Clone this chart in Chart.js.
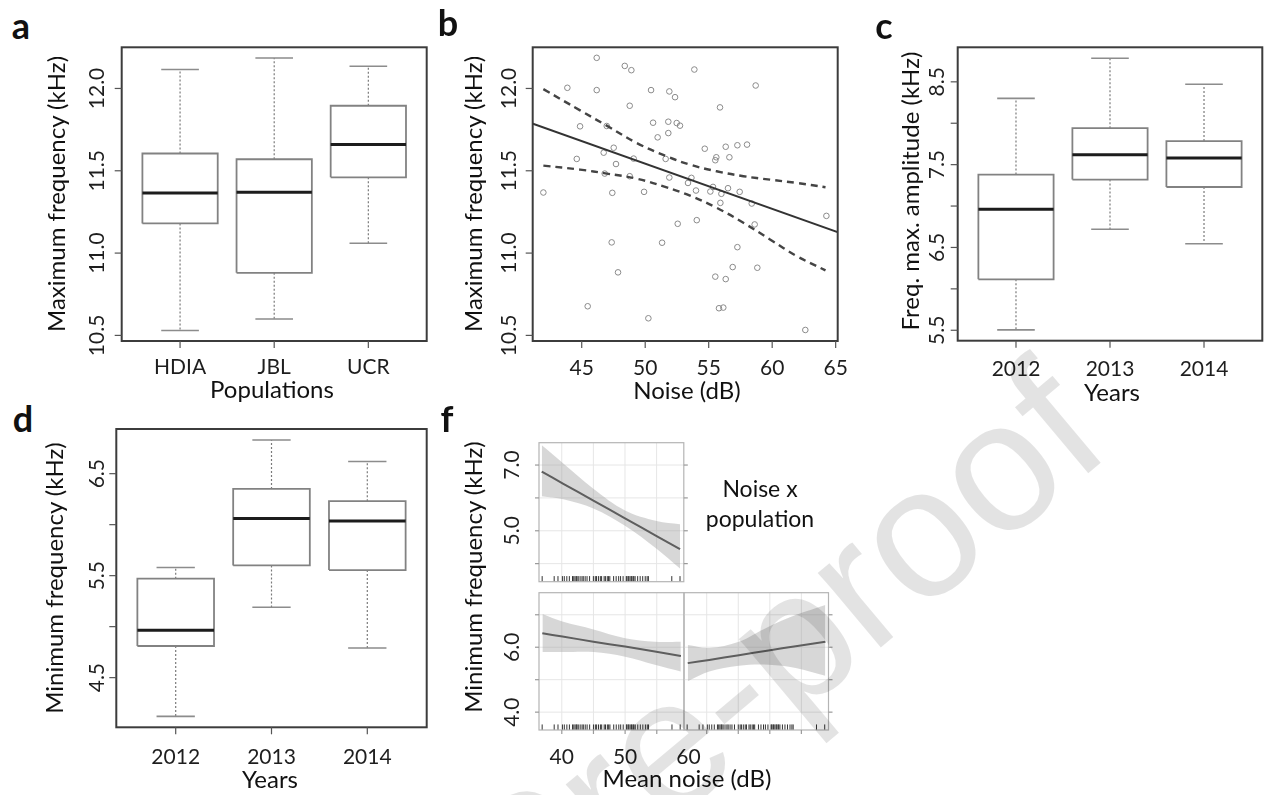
<!DOCTYPE html>
<html>
<head>
<meta charset="utf-8">
<script src="https://cdn.jsdelivr.net/npm/chart.js@4.4.0/dist/chart.umd.min.js"></script>
<style>
  body { margin: 0; width: 1267px; height: 795px; overflow: hidden; position: relative; background: #fff; font-family: Lato, 'Open Sans', sans-serif; color: #111; }
  canvas { position: absolute; }
  .t { position: absolute; white-space: nowrap; line-height: 1; transform: translate(-50%, -50%); }
  .v { transform: translate(-50%, -50%) rotate(-90deg); }
  .letter { font-weight: bold; font-size: 36px; }
  .title { font-size: 24px; }
  .note { font-size: 23px; line-height: 30px; text-align: center; }
  #mark { position: absolute; left: 0; top: 0; transform-origin: 0 0; transform: translate(-80px, 1250px) rotate(-40deg);
          font: 185px 'Liberation Sans', sans-serif; color: rgba(0, 0, 0, 0.11); white-space: nowrap; line-height: 1; pointer-events: none; }
</style>
</head>
<body>
<canvas id="chartA"></canvas>
<canvas id="chartB"></canvas>
<canvas id="chartC"></canvas>
<canvas id="chartD"></canvas>
<canvas id="chartFT"></canvas>
<canvas id="chartFBL"></canvas>
<canvas id="chartFBR"></canvas>

<div class="t letter" style="left:21px; top:25px">a</div>
<div class="t letter" style="left:448px; top:22px">b</div>
<div class="t letter" style="left:884px; top:25px">c</div>
<div class="t letter" style="left:23px; top:418px">d</div>
<div class="t letter" style="left:447px; top:418px">f</div>

<div class="t v title" style="left:56px; top:194px">Maximum frequency (kHz)</div>
<div class="t v title" style="left:473px; top:194px">Maximum frequency (kHz)</div>
<div class="t v title" style="left:910px; top:191px">Freq. max. amplitude (kHz)</div>
<div class="t v title" style="left:54px; top:578px">Minimum frequency (kHz)</div>
<div class="t v title" style="left:473px; top:577px">Minimum frequency (kHz)</div>

<div class="t title" style="left:272px; top:389px">Populations</div>
<div class="t title" style="left:687px; top:390px">Noise (dB)</div>
<div class="t title" style="left:1112px; top:392px">Years</div>
<div class="t title" style="left:270px; top:779px">Years</div>
<div class="t title" style="left:687px; top:778px">Mean noise (dB)</div>

<div class="t note" style="left:760px; top:503px">Noise x<br>population</div>

<div id="mark">Journal Pre-proof</div>

<script>
// a: maximum frequency by population (boxplot stats, kHz)
const popLabels = ['HDIA', 'JBL', 'UCR'];
const maxFreqLow = [10.53, 10.60, 11.06];
const maxFreqQ1 = [11.18, 10.88, 11.46];
const maxFreqMed = [11.365, 11.37, 11.66];
const maxFreqQ3 = [11.605, 11.57, 11.895];
const maxFreqHigh = [12.115, 12.185, 12.135];

// b: maximum frequency against noise
const noiseDb = [46.18, 48.39, 48.91, 53.87, 43.87, 46.18, 50.46, 51.90, 52.35, 58.70,
                 48.78, 55.89, 44.87, 46.97, 50.62, 51.82, 52.48, 52.74, 50.98, 51.82,
                 54.69, 56.34, 57.26, 58.02, 47.52, 46.73, 44.61, 47.70, 49.09, 51.61,
                 55.52, 55.60, 56.63, 46.81, 48.78, 51.90, 53.64, 53.37, 54.00, 55.13,
                 55.34, 56.00, 56.52, 57.44, 41.98, 47.41, 49.91, 55.92, 58.39, 64.27,
                 52.56, 54.06, 58.62, 47.36, 51.33, 57.26, 47.86, 56.89, 58.83, 55.52,
                 56.34, 45.47, 50.25, 55.81, 56.15, 62.61];
const maxFreq = [12.186, 12.137, 12.111, 12.115, 12.004, 11.990, 11.990, 11.982, 11.947, 12.018,
                 11.895, 11.885, 11.770, 11.772, 11.792, 11.798, 11.790, 11.774, 11.703, 11.729,
                 11.634, 11.646, 11.655, 11.659, 11.640, 11.610, 11.572, 11.541, 11.574, 11.572,
                 11.564, 11.582, 11.582, 11.483, 11.467, 11.459, 11.457, 11.426, 11.380, 11.374,
                 11.402, 11.360, 11.394, 11.372, 11.368, 11.366, 11.372, 11.305, 11.301, 11.226,
                 11.178, 11.200, 11.174, 11.065, 11.063, 11.036, 10.883, 10.915, 10.911, 10.857,
                 10.842, 10.677, 10.604, 10.665, 10.669, 10.533];
const fitNoise = [41.1, 65.2];
const fitMaxFreq = [11.787, 11.126];
const ciNoise = [41.98, 44.87, 46.97, 49.33, 51.69, 53.53, 55.63, 57.73, 59.83, 61.93, 64.2];
const ciUpper = [11.996, 11.867, 11.774, 11.669, 11.588, 11.537, 11.497, 11.467, 11.446, 11.426, 11.400];
const ciLower = [11.531, 11.507, 11.483, 11.452, 11.399, 11.349, 11.275, 11.184, 11.083, 10.982, 10.895];

// c: frequency of max amplitude by year
const yearLabels = ['2012', '2013', '2014'];
const ampLow = [5.505, 6.72, 6.545];
const ampQ1 = [6.115, 7.32, 7.23];
const ampMed = [6.96, 7.62, 7.58];
const ampQ3 = [7.38, 7.94, 7.785];
const ampHigh = [8.30, 8.785, 8.47];

// d: minimum frequency by year
const minLow = [4.12, 5.19, 4.79];
const minQ1 = [4.81, 5.60, 5.555];
const minMed = [4.965, 6.06, 6.035];
const minQ3 = [5.47, 6.35, 6.23];
const minHigh = [5.58, 6.83, 6.62];

// f: effect of mean noise on minimum frequency, by population panel
const topNoise = [36.84, 40.25, 45.0, 50.0, 55.0, 58.7];
const topFit = [6.80, 6.43, 5.92, 5.38, 4.84, 4.44];
const topUpper = [7.60, 7.05, 6.28, 5.62, 5.30, 5.20];
const topLower = [6.05, 5.96, 5.68, 5.15, 4.45, 3.85];
const leftNoise = [36.94, 40.1, 45.0, 50.0, 54.7, 58.8];
const leftFit = [6.43, 6.33, 6.17, 6.02, 5.87, 5.73];
const leftUpper = [7.02, 6.79, 6.55, 6.28, 6.17, 6.17];
const leftLower = [5.85, 5.85, 5.85, 5.71, 5.46, 5.25];
const rightNoise = [37.0, 40.4, 45.1, 49.8, 54.1, 58.8];
const rightFit = [5.51, 5.61, 5.755, 5.90, 6.03, 6.17];
const rightUpper = [6.07, 5.98, 6.17, 6.63, 6.99, 7.30];
const rightLower = [4.95, 5.25, 5.43, 5.46, 5.36, 5.12];
const rugNoise = [36.9, 38.8, 39.4, 40.1, 40.4, 40.8, 41.2, 41.7, 41.9, 42.1, 42.3, 42.4, 42.6,
                  42.9, 43.2, 43.4, 43.7, 44.0, 44.4, 45.0, 45.3, 45.5, 45.8, 46.1, 46.3, 46.7,
                  46.9, 47.2, 47.4, 47.6, 48.2, 48.6, 49.0, 49.3, 49.7, 50.2, 50.3, 50.5, 50.6,
                  50.8, 51.0, 51.1, 51.3, 51.4, 51.6, 52.0, 52.4, 52.8, 53.2, 53.5, 53.7, 57.4, 58.7];

// axis ticks
const maxFreqTicks = [10.5, 11.0, 11.5, 12.0];
const noiseTicks = [45, 50, 55, 60, 65];
const ampTicks = [5.5, 6.0, 6.5, 7.0, 7.5, 8.0, 8.5];
const ampLabelTicks = [5.5, 6.5, 7.5, 8.5];
const minTicks = [4.5, 5.0, 5.5, 6.0, 6.5];
const minLabelTicks = [4.5, 5.5, 6.5];
const effYTicks = [4, 5, 6, 7];
const effXTicks = [40, 45, 50, 55];
const effXLabels = [40, 50, 60];

const BOX_HALF = 0.4, CAP_HALF = 0.2;
const BOX_X = [0.38, 3.62];
const EFF_X = [36.4, 59.3], EFF_Y = [3.45, 7.68];

function seg(ctx, x1, y1, x2, y2) {
  ctx.beginPath(); ctx.moveTo(x1, y1); ctx.lineTo(x2, y2); ctx.stroke();
}

// R-style frame, outward ticks and rotated y labels
const rAxes = {
  id: 'rAxes',
  beforeDatasetsDraw(chart, args, o) {
    const {ctx, chartArea: a, scales} = chart;
    ctx.save();
    ctx.strokeStyle = '#e6e6e6';
    ctx.lineWidth = 1;
    (o.gridX || []).forEach(v => { const p = scales.x.getPixelForValue(v); seg(ctx, p, a.top, p, a.bottom); });
    (o.gridY || []).forEach(v => { const p = scales.y.getPixelForValue(v); seg(ctx, a.left, p, a.right, p); });
    ctx.restore();
  },
  afterDatasetsDraw(chart, args, o) {
    const {ctx, chartArea: a, scales: {x, y}} = chart;
    ctx.save();
    ctx.strokeStyle = o.frameColor || '#3c3c3c';
    ctx.lineWidth = o.frameWidth || 2;
    ctx.strokeRect(a.left, a.top, a.right - a.left, a.bottom - a.top);
    ctx.strokeStyle = o.tickColor || '#555';
    ctx.lineWidth = 1.2;
    const len = o.tickLen || 7;
    (o.xTicks || []).forEach(v => { const p = x.getPixelForValue(v); seg(ctx, p, a.bottom, p, a.bottom + len); });
    (o.yTicks || []).forEach(v => {
      const p = y.getPixelForValue(v);
      if (!o.noLeft) seg(ctx, a.left, p, a.left - len, p);
      if (o.right) seg(ctx, a.right, p, a.right + len, p);
    });
    ctx.fillStyle = '#1e1e1e';
    ctx.font = '21px Lato, sans-serif';
    ctx.textAlign = 'center';
    ctx.textBaseline = 'middle';
    (o.xLabels || []).forEach((t, i) => {
      ctx.fillText(t, x.getPixelForValue(o.xLabelAt[i]), a.bottom + o.xGap);
    });
    (o.yLabels || []).forEach(v => {
      ctx.save();
      ctx.translate(a.left - o.yGap, y.getPixelForValue(v));
      ctx.rotate(-Math.PI / 2);
      ctx.fillText(v.toFixed(1), 0, 0);
      ctx.restore();
    });
    ctx.restore();
  }
};

function makeChart(id, frame, xRange, yRange, datasets, axes) {
  const cv = document.getElementById(id);
  const box = [Math.floor(frame[0] - 80), Math.floor(frame[1] - 15), Math.ceil(frame[2] + 30), Math.ceil(frame[3] + 50)];
  cv.style.left = box[0] + 'px';
  cv.style.top = box[1] + 'px';
  cv.width = box[2] - box[0];
  cv.height = box[3] - box[1];
  return new Chart(cv, {
    type: 'scatter',
    data: { datasets },
    options: {
      responsive: false,
      animation: false,
      events: [],
      layout: { padding: { left: frame[0] - box[0], top: frame[1] - box[1], right: box[2] - frame[2], bottom: box[3] - frame[3] } },
      plugins: { legend: { display: false }, tooltip: { enabled: false }, rAxes: axes },
      scales: {
        x: { type: 'linear', display: false, min: xRange[0], max: xRange[1] },
        y: { type: 'linear', display: false, min: yRange[0], max: yRange[1] }
      }
    },
    plugins: [rAxes]
  });
}

function line(points, color, width, extra) {
  return Object.assign({ data: points, showLine: true, borderColor: color, borderWidth: width, pointRadius: 0, spanGaps: false }, extra || {});
}

function boxplotSets(low, q1, med, q3, high) {
  const box = [], mid = [], whisk = [], caps = [];
  low.forEach((lo, i) => {
    const c = i + 1;
    box.push({ x: c - BOX_HALF, y: q1[i] }, { x: c + BOX_HALF, y: q1[i] }, { x: c + BOX_HALF, y: q3[i] },
             { x: c - BOX_HALF, y: q3[i] }, { x: c - BOX_HALF, y: q1[i] }, { x: c, y: null });
    mid.push({ x: c - BOX_HALF, y: med[i] }, { x: c + BOX_HALF, y: med[i] }, { x: c, y: null });
    whisk.push({ x: c, y: q3[i] }, { x: c, y: high[i] }, { x: c, y: null }, { x: c, y: q1[i] }, { x: c, y: lo }, { x: c, y: null });
    caps.push({ x: c - CAP_HALF, y: high[i] }, { x: c + CAP_HALF, y: high[i] }, { x: c, y: null },
              { x: c - CAP_HALF, y: lo }, { x: c + CAP_HALF, y: lo }, { x: c, y: null });
  });
  return [
    line(mid, '#1c1c1c', 3, { order: 0 }),
    line(box, '#828282', 1.8, { order: 1, borderJoinStyle: 'miter' }),
    line(caps, '#8c8c8c', 1.6, { order: 2 }),
    line(whisk, '#7a7a7a', 1.2, { order: 3, borderDash: [2, 2] })
  ];
}

function xy(xs, ys) { return xs.map((v, i) => ({ x: v, y: ys[i] })); }

function effectSets(xs, fit, upper, lower) {
  const rugY = EFF_Y[0] + 0.085;
  return [
    line(xy(xs, upper), 'rgba(0,0,0,0)', 0, { fill: '+1', backgroundColor: 'rgba(160,160,160,0.42)', tension: 0.35 }),
    line(xy(xs, lower), 'rgba(0,0,0,0)', 0, { tension: 0.35 }),
    line(xy(xs, fit), '#2f2f2f', 2, { tension: 0.2 }),
    { data: rugNoise.map(v => ({ x: v, y: rugY })), pointStyle: 'line', rotation: 90, pointRadius: 2.8,
      borderColor: '#333', borderWidth: 1, showLine: false }
  ];
}

const boxXLabelAt = [1, 2, 3];

makeChart('chartA', [121.7, 47.3, 426.7, 341], BOX_X, [10.466, 12.25],
  boxplotSets(maxFreqLow, maxFreqQ1, maxFreqMed, maxFreqQ3, maxFreqHigh),
  { xTicks: boxXLabelAt, xLabels: popLabels, xLabelAt: boxXLabelAt, xGap: 26, yTicks: maxFreqTicks, yLabels: maxFreqTicks, yGap: 24 });

makeChart('chartB', [532.7, 47.3, 837.7, 341], [41.14, 65.16], [10.466, 12.25], [
    line(xy(fitNoise, fitMaxFreq), '#333', 2),
    line(xy(ciNoise, ciUpper), '#444', 2.4, { borderDash: [7, 5], tension: 0.4 }),
    line(xy(ciNoise, ciLower), '#444', 2.4, { borderDash: [7, 5], tension: 0.4 }),
    { data: xy(noiseDb, maxFreq), pointRadius: 2.8, borderWidth: 1, borderColor: '#8a8a8a', backgroundColor: 'rgba(0,0,0,0)' }
  ],
  { xTicks: noiseTicks, xLabels: noiseTicks.map(String), xLabelAt: noiseTicks, xGap: 27, yTicks: maxFreqTicks, yLabels: maxFreqTicks, yGap: 23 });

makeChart('chartC', [957.7, 47.3, 1262.3, 340.7], BOX_X, [5.374, 8.917],
  boxplotSets(ampLow, ampQ1, ampMed, ampQ3, ampHigh),
  { xTicks: boxXLabelAt, xLabels: yearLabels, xLabelAt: boxXLabelAt, xGap: 29, yTicks: ampTicks, yLabels: ampLabelTicks, yGap: 20 });

makeChart('chartD', [116.3, 429, 426.7, 727.3], BOX_X, [4.013, 6.938],
  boxplotSets(minLow, minQ1, minMed, minQ3, minHigh),
  { xTicks: boxXLabelAt, xLabels: yearLabels, xLabelAt: boxXLabelAt, xGap: 30, yTicks: minTicks, yLabels: minLabelTicks, yGap: 19 });

const effFrame = { frameColor: '#b4b4b4', frameWidth: 1.2, tickColor: '#9a9a9a', tickLen: 4, gridX: effXTicks, gridY: effYTicks, yTicks: effYTicks, yGap: 27 };

makeChart('chartFT', [539, 442.7, 683.8, 581.7], EFF_X, EFF_Y,
  effectSets(topNoise, topFit, topUpper, topLower),
  Object.assign({}, effFrame, { right: true, yLabels: [5, 7] }));

makeChart('chartFBL', [539, 592.7, 684, 730], EFF_X, EFF_Y,
  effectSets(leftNoise, leftFit, leftUpper, leftLower),
  Object.assign({}, effFrame, { yLabels: [4, 6], xTicks: effXTicks, xLabels: effXLabels.map(String), xLabelAt: effXLabels, xGap: 27 }));

makeChart('chartFBR', [684, 592.7, 828.5, 730], EFF_X, EFF_Y,
  effectSets(rightNoise, rightFit, rightUpper, rightLower),
  Object.assign({}, effFrame, { noLeft: true, right: true, xTicks: effXTicks }));
</script>
</body>
</html>
